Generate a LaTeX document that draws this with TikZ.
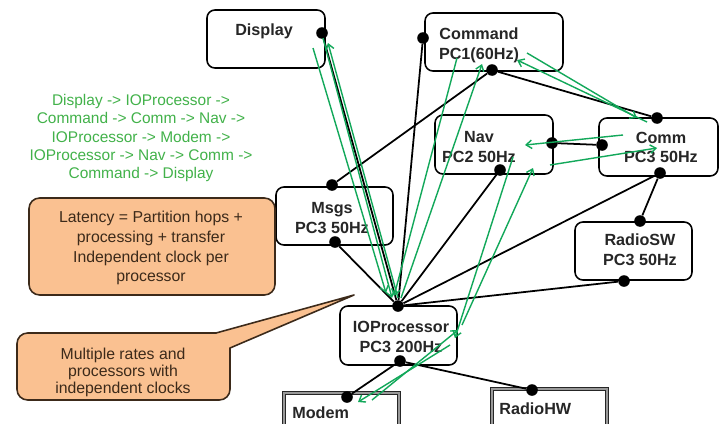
\documentclass[tikz,border=0pt]{standalone}
\usepackage{fontspec}
\setmainfont{Liberation Sans}
\usetikzlibrary{arrows.meta}

\definecolor{flowgreen}{RGB}{18,168,90}
\definecolor{routegreen}{RGB}{66,178,74}
\definecolor{notefill}{RGB}{250,193,145}
\definecolor{noteedge}{RGB}{60,42,26}

\tikzset{
  proc/.style={draw, line width=0.9pt, rounded corners=4.5pt, inner sep=0pt},
  devbox/.style={draw=black!85, line width=0.6pt, double=black!40, double distance=1.5pt, inner sep=0pt},
  note/.style={draw=noteedge, fill=notefill, line width=0.9pt, rounded corners=6pt, inner sep=0pt},
  lbl/.style={font=\fontsize{9.2}{11.3}\selectfont\bfseries, text=black!85, align=center, inner sep=0pt},
  notetxt/.style={font=\fontsize{9}{11.3}\selectfont, text=noteedge, align=center, inner sep=0pt},
  port/.style={circle, fill=black, inner sep=0pt, minimum size=6.6pt},
  wire/.style={line width=1pt},
  flow/.style={flowgreen, line width=0.8pt, -{Straight Barb[length=3.2pt,width=4.8pt]}},
}

\begin{document}
\begin{tikzpicture}[x=0.02cm, y=-0.02cm]
  \clip (0,0) rectangle (722,423);
  \fill[white] (0,0) rectangle (722,423);

  % processes
  \node[proc, minimum width=2.36cm, minimum height=1.16cm] (display) at (266,39) {};
  \node[proc, minimum width=2.76cm, minimum height=1.16cm] (command) at (494,42) {};
  \node[proc, minimum width=2.36cm, minimum height=1.18cm] (nav) at (494,144.5) {};
  \node[proc, minimum width=2.38cm, minimum height=1.16cm] (comm) at (658.5,147) {};
  \node[proc, minimum width=2.34cm, minimum height=1.16cm] (msgs) at (334.5,216) {};
  \node[proc, minimum width=2.34cm, minimum height=1.16cm] (radiosw) at (633.5,251) {};
  \node[proc, minimum width=2.34cm, minimum height=1.18cm] (ioproc) at (398.5,335.5) {};
  \node[devbox, minimum width=2.30cm, minimum height=1.12cm] (modem) at (341.5,421) {};
  \node[devbox, minimum width=2.30cm, minimum height=1.22cm] (radiohw) at (549.5,419.5) {};

  \node[lbl] (displaytxt) at (264,31) {Display};
  \node[lbl] (commandtxt) at (479,45) {Command\\PC1(60Hz)};
  \node[lbl] (navtxt) at (479,147) {Nav\\PC2 50Hz};
  \node[lbl] (commtxt) at (661,147.5) {Comm\\PC3 50Hz};
  \node[lbl] (msgstxt) at (332,218) {Msgs\\PC3 50Hz};
  \node[lbl] (radioswtxt) at (640,250) {RadioSW\\PC3 50Hz};
  \node[lbl] (ioproctxt) at (401,337) {IOProcessor\\PC3 200Hz};
  \node[lbl, anchor=west] (modemtxt) at (292,413) {Modem};
  \node[lbl, anchor=west] (radiohwtxt) at (499,409) {RadioHW};

  % notes
  \node[font=\fontsize{8.8}{10.5}\selectfont, text=routegreen, align=center, inner sep=0pt] (route) at (141,138)
    {Display -> IOProcessor ->\\Command -> Comm -> Nav ->\\IOProcessor -> Modem ->\\IOProcessor -> Nav -> Comm ->\\Command -> Display};
  \node[note, minimum width=4.92cm, minimum height=1.94cm] (latency) at (152,246.5) {};
  \node[notetxt] (latencytxt) at (151,248)
    {Latency = Partition hops +\\processing + transfer\\Independent clock per\\processor};
  \node[note, minimum width=4.26cm, minimum height=1.34cm] (rates) at (123.5,366.5) {};
  \coordinate (ratestip) at (354,295);
  \filldraw[draw=noteedge, fill=notefill, line width=0.9pt, line join=round]
    (216,333) -- (ratestip) -- (230,348);
  \node[notetxt, font=\fontsize{9}{9.9}\selectfont] (ratestxt) at (123,372.5)
    {Multiple rates and\\processors with\\independent clocks};

  % ports
  \node[port] (dispR) at (322,33) {};
  \node[port] (cmdL) at (423,38) {};
  \node[port] (cmdB) at (492,70) {};
  \node[port] (navR) at (552,143) {};
  \node[port] (navB) at (500,170) {};
  \node[port] (commT) at (657,118) {};
  \node[port] (commL) at (602,145) {};
  \node[port] (commB) at (660,173) {};
  \node[port] (msgsT) at (332,185) {};
  \node[port] (msgsB) at (335,242) {};
  \node[port] (rswT) at (640,221) {};
  \node[port] (rswB) at (624,281) {};
  \node[port] (ioT) at (398,306) {};
  \node[port] (ioB) at (400,361) {};
  \node[port] (modemT) at (347,397) {};
  \node[port] (rhwT) at (532,390) {};

  % connections
  \draw[wire] (ioT) -- (dispR);
  \draw[wire] (ioT) -- (cmdL);
  \draw[wire] (msgsT) -- (cmdB);
  \draw[wire] (cmdB) -- (commT);
  \draw[wire] (navR) -- (commL);
  \draw[wire] (ioT) -- (navB);
  \draw[wire] (ioT) -- (commB);
  \draw[wire] (commB) -- (rswT);
  \draw[wire] (ioT) -- (rswB);
  \draw[wire] (ioT) -- (msgsB);
  \draw[wire] (ioB) -- (modemT);
  \draw[wire] (ioB) -- (rhwT);

  % message flow
  \coordinate (f1) at (323,38);   \coordinate (f1e) at (392,298);
  \coordinate (f2) at (398,298);  \coordinate (f2e) at (328,43);
  \coordinate (f3) at (313,48);   \coordinate (f3e) at (386,293);
  \coordinate (f4) at (401,298);  \coordinate (f4e) at (482,64);
  \coordinate (f5) at (457,58);   \coordinate (f5e) at (394,296);
  \coordinate (f6) at (527,53);   \coordinate (f6e) at (637,118);
  \coordinate (f7) at (647,122);  \coordinate (f7e) at (517,60);
  \coordinate (f8) at (623,135);  \coordinate (f8e) at (525,145);
  \coordinate (f9) at (550,165);  \coordinate (f9e) at (657,148);
  \coordinate (f10) at (513,157); \coordinate (f10e) at (455,338);
  \coordinate (f11) at (450,345); \coordinate (f11e) at (358,402);
  \coordinate (f12) at (372,400); \coordinate (f12e) at (458,330);
  \coordinate (f13) at (462,325); \coordinate (f13e) at (533,168);
  \foreach \s in {1,...,13}
    \draw[flow] (f\s) -- (f\s e);
\end{tikzpicture}
\end{document}
